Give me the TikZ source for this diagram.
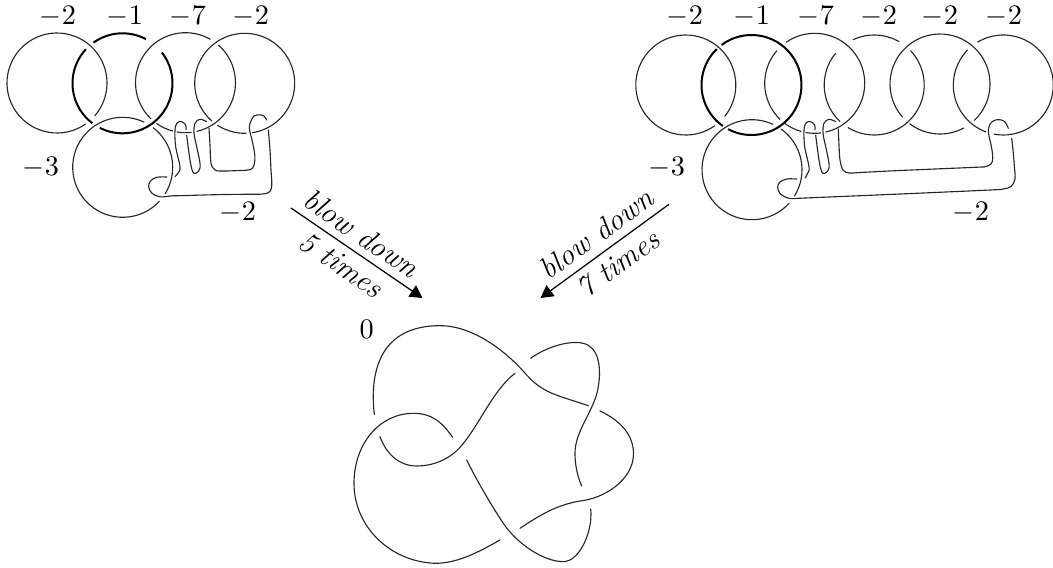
\documentclass[tikz,border=0pt]{standalone}
\usetikzlibrary{arrows.meta}
\def\ringarc[#1](#2,#3)(#4:#5){\draw[#1] ({#2+50*cos(#4)},{#3+50*sin(#4)}) arc (#4:#5:50);}
\tikzset{
	ring/.style={line width=0.45pt, color=black!85},
	heavyring/.style={line width=0.8pt, color=black},
	strand/.style={line width=0.45pt, color=black!85, line cap=round},
	blowarrow/.style={line width=0.5pt, -{Triangle[length=5pt,width=5.4pt]}},
	framing/.style={inner sep=0pt, scale=1.13},
	blowtext/.style={font=\large\itshape, sloped, inner sep=3pt}
}

\begin{document}
\begin{tikzpicture}[x=0.4pt, y=-0.4pt]
		%%%%% START %%%%%
		\useasboundingbox (0, 0) rectangle (1053, 567);
		
		% left chain
		\ringarc[ring](57, 83)(55:401);
		\ringarc[heavyring](122.5, 83.3)(234.5:298);
		\ringarc[heavyring](122.5, 83.3)(-38:117);
		\ringarc[heavyring](122.5, 83.3)(127:223);
		\ringarc[ring](185.5, 82.7)(-49:77);
		\ringarc[ring](185.5, 82.7)(83:100);
		\ringarc[ring](185.5, 82.7)(104.5:125.6);
		\ringarc[ring](185.5, 82.7)(133.4:300);
		\ringarc[ring](244.7, 83.3)(88:123);
		\ringarc[ring](244.7, 83.3)(131:441.6);
		\ringarc[ring](122.7, 167.3)(-52.6:32);
		\ringarc[ring](122.7, 167.3)(42.6:295.5);
		
		\draw[strand] plot[smooth, tension=0.6] coordinates {(166.7,177) (156.7,177.3) (150.5,181) (148.7,186.7) (151.7,193) (160,196.8) (173,195.8) (183,195.6) (220,194.6) (253,194.2) (263,194) (270,191.5) (271.8,184) (271,170) (270,150) (268.3,130)};
		\draw[strand] plot[smooth, tension=0.6] coordinates {(266.7,120) (264,116) (259.5,114.8) (254,116) (251,121) (249.3,128) (252,140) (254.8,155) (254,165) (250.5,169.5) (240,170.5) (220,171) (214.5,169.5) (211,163) (210,145) (209,128.3)};
		\draw[strand] plot[smooth, tension=0.6] coordinates {(206.7,121.7) (200,119.3) (195,123.3) (194,133.3) (196.7,146.7) (200,163.3) (199.3,170) (195.7,173.3) (192.7,171.7) (190,160) (186.7,135.5)};
		\draw[strand] plot[smooth, tension=0.6] coordinates {(186,129.5) (185.7,125) (181.7,121.7) (177.3,122.7) (175,130) (175.7,146.7) (180,166.7) (178.3,172.7) (175,176.7)};
		
		% right chain
		\ringarc[ring](685.8, 85)(54.6:399);
		\ringarc[heavyring](751.5, 85)(233.3:478);
		\ringarc[heavyring](751.5, 85)(125:226);
		\ringarc[ring](814.7, 83.3)(235:437.5);
		\ringarc[ring](814.7, 83.3)(82.8:100.6);
		\ringarc[ring](814.7, 83.3)(105.3:126.4);
		\ringarc[ring](814.7, 83.3)(133.7:221);
		\ringarc[ring](874.2, 85)(244.8:300);
		\ringarc[ring](874.2, 85)(-43.5:121.8);
		\ringarc[ring](874.2, 85)(133:219.4);
		\ringarc[ring](940, 84)(138.5:407);
		\ringarc[ring](940, 84)(61.6:127.6);
		\ringarc[ring](1003.3, 85)(238.8:460.9);
		\ringarc[ring](1003.3, 85)(110:224.4);
		\ringarc[ring](752, 169.7)(-54.6:32);
		\ringarc[ring](752, 169.7)(42:295);
		
		\draw[strand] plot[smooth, tension=0.6] coordinates {(796.7,179) (787,179) (780,182) (777.7,187) (780,193.5) (789,198.3) (800,198.2) (810,197.8) (900,194) (990,190) (1003,189) (1011,186.5) (1015,179) (1014.5,168) (1013,150) (1011.7,138.5)};
		\draw[strand] plot[smooth, tension=0.6] coordinates {(1008.3,128.3) (1005,122) (1000,119.7) (994,120.5) (989.5,125) (988.5,133) (991.5,147) (992.7,158) (991,164) (985,166.7) (975,167.3) (900,170.5) (860,172.5) (849,173) (843,170) (840,160) (839,145) (838.3,129)};
		\draw[strand] plot[smooth, tension=0.6] coordinates {(835.7,121.7) (829,119.3) (824,123.3) (823,133.3) (825.7,146.7) (829,163.3) (828.3,170) (824.7,173.3) (821.7,171.7) (819,160) (815.7,135.5)};
		\draw[strand] plot[smooth, tension=0.6] coordinates {(815,129.5) (814.7,125) (810.7,121.7) (806.3,122.7) (804,130) (804.7,146.7) (809,166.7) (808,172.7) (805,178)};
		
		% framings
		\node[framing] (lefta) at (58, 17) {$-2$};
		\node[framing] (leftb) at (125, 17) {$-1$};
		\node[framing] (leftc) at (188, 17) {$-7$};
		\node[framing] (leftd) at (251, 17) {$-2$};
		\node[framing] (lefte) at (41, 168) {$-3$};
		\node[framing] (leftf) at (238, 213) {$-2$};
		
		\node[framing] (righta) at (685, 17) {$-2$};
		\node[framing] (rightb) at (752, 17) {$-1$};
		\node[framing] (rightc) at (816, 17) {$-7$};
		\node[framing] (rightd) at (879, 17) {$-2$};
		\node[framing] (righte) at (940, 17) {$-2$};
		\node[framing] (rightf) at (1004, 17) {$-2$};
		\node[framing] (rightg) at (667, 168) {$-3$};
		\node[framing] (righth) at (971, 213) {$-2$};
		
		\node[framing] (knotzero) at (366.7, 329) {$0$};
		
		% blow downs
		\coordinate (startleft) at (291, 208);
		\coordinate (endleft) at (422.5, 298);
		\coordinate (startright) at (669, 204.3);
		\coordinate (endright) at (540.5, 298);
		\draw[blowarrow] (startleft) -- node[blowtext, above, pos=0.455] (blowleft) {blow down} node[blowtext, below, pos=0.46] (timesleft) {5 times} (endleft);
		\draw[blowarrow] (startright) -- node[blowtext, above, pos=0.48, inner sep=3.2pt] (blowright) {blow down} node[blowtext, below, pos=0.48] (timesright) {7 times} (endright);
		
		% knot
		\begin{scope}[shift={(340, 310)}, scale=0.3333]
			\draw[strand] (103,313) .. controls (90,200) and (110,47) .. (300,47) .. controls (400,47) and (500,125) .. (560,195) .. controls (610,250) and (650,255) .. (745,287);
			\draw[strand] (572,145) .. controls (620,110) and (690,90) .. (730,100) .. controls (775,110) and (785,170) .. (775,230) .. controls (765,300) and (705,360) .. (705,430) .. controls (705,470) and (715,505) .. (725,528);
			\draw[strand] (780,303) .. controls (850,335) and (885,385) .. (880,440) .. controls (875,510) and (795,565) .. (720,573) .. controls (650,585) and (600,615) .. (540,655);
			\draw[strand] (752,597) .. controls (760,660) and (720,755) .. (670,755) .. controls (610,755) and (530,700) .. (490,640) .. controls (450,580) and (410,510) .. (380,450);
			\draw[strand] (480,690) .. controls (410,730) and (350,760) .. (285,760) .. controls (150,755) and (42,650) .. (42,520) .. controls (42,400) and (120,310) .. (220,310) .. controls (275,310) and (305,335) .. (338,382);
			\draw[strand] (120,380) .. controls (140,435) and (180,468) .. (230,468) .. controls (290,468) and (340,440) .. (370,400) .. controls (420,340) and (460,240) .. (525,190);
		\end{scope}
		%%%%% END %%%%%
	\end{tikzpicture}
\end{document}
